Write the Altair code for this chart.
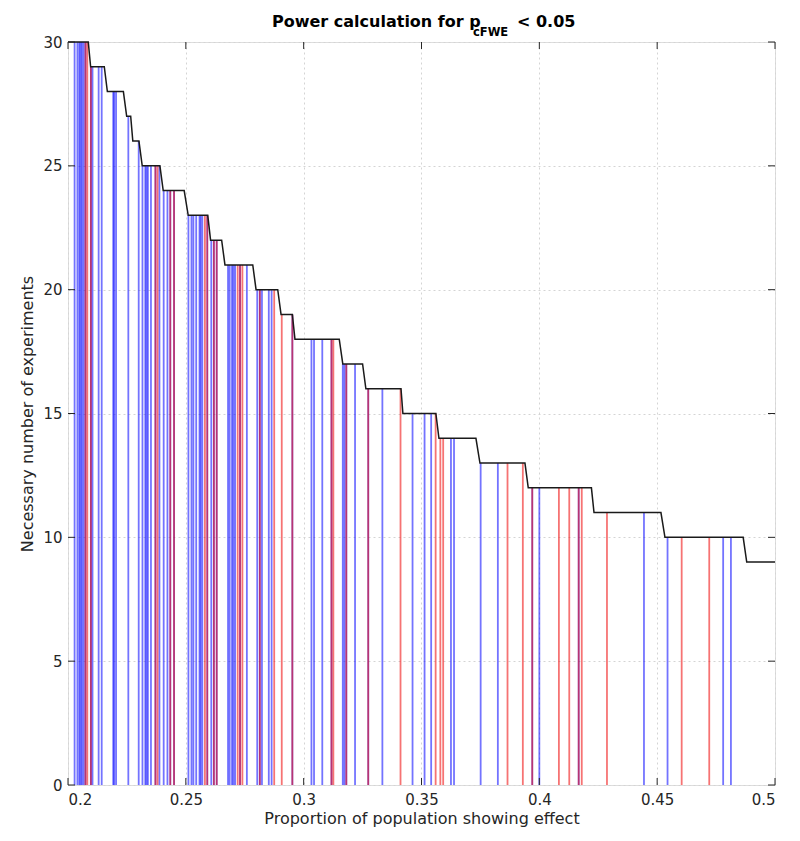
import altair as alt
import pandas as pd

# ---- data ----
# black step curve: each level with its start / end x
step_levels = [30, 29, 28, 27, 26, 25, 24, 23, 22, 21, 20, 19, 18, 17, 16, 15, 14, 13, 12, 11, 10, 9]
step_start = [0.2000, 0.2096, 0.2167, 0.2249, 0.2275, 0.2315, 0.2404, 0.2510, 0.2605, 0.2666, 0.2798,
              0.2904, 0.2963, 0.3166, 0.3264, 0.3421, 0.3574, 0.3748, 0.3953, 0.4232, 0.4533, 0.4880]
step_end = [0.2086, 0.2154, 0.2235, 0.2266, 0.2301, 0.2390, 0.2493, 0.2593, 0.2652, 0.2784, 0.2890,
            0.2952, 0.3151, 0.3250, 0.3413, 0.3561, 0.3731, 0.3939, 0.4221, 0.4516, 0.4865, 0.5000]

# blue vertical lines (x, height)
blue_x = [0.2028, 0.2040, 0.2048, 0.2053, 0.2059, 0.2066, 0.2074, 0.2097, 0.2104, 0.2130, 0.2143,
          0.2192, 0.2196, 0.2204, 0.2256, 0.2300, 0.2316, 0.2328, 0.2333, 0.2339, 0.2352, 0.2371,
          0.2388, 0.2406, 0.2422, 0.2434, 0.2450, 0.2511, 0.2524, 0.2532, 0.2544, 0.2558, 0.2563,
          0.2570, 0.2591, 0.2608, 0.2619, 0.2631, 0.2679, 0.2686, 0.2696, 0.2702, 0.2709, 0.2730,
          0.2759, 0.2803, 0.2814, 0.2823, 0.2852, 0.2864, 0.2952, 0.3033, 0.3044, 0.3079, 0.3118,
          0.3166, 0.3173, 0.3181, 0.3218, 0.3274, 0.3334, 0.3462, 0.3513, 0.3541, 0.3625, 0.3638,
          0.3751, 0.3824, 0.3970, 0.4000, 0.4167, 0.4444, 0.4544, 0.4780, 0.4813]
blue_h = [30, 30, 30, 30, 30, 30, 30, 29, 29, 29, 29,
          28, 28, 28, 27, 26, 25, 25, 25, 25, 25, 25,
          25, 24, 24, 24, 24, 23, 23, 23, 23, 23, 23,
          23, 23, 22, 22, 22, 21, 21, 21, 21, 21, 21,
          21, 20, 20, 20, 20, 20, 19, 18, 18, 18, 18,
          17, 17, 17, 17, 16, 16, 15, 15, 15, 14, 14,
          13, 13, 12, 12, 12, 11, 10, 10, 10]

# red vertical lines (x, height)
red_x = [0.2074, 0.2082, 0.2097, 0.2371, 0.2380, 0.2434, 0.2450, 0.2581, 0.2591, 0.2619, 0.2631,
         0.2720, 0.2730, 0.2740, 0.2814, 0.2875, 0.2907, 0.2952, 0.3118, 0.3126, 0.3181, 0.3274,
         0.3411, 0.3560, 0.3580, 0.3592, 0.3865, 0.3930, 0.3970, 0.4083, 0.4127, 0.4167, 0.4180,
         0.4287, 0.4604, 0.4721]
red_h = [30, 30, 29, 25, 25, 24, 24, 23, 23, 22, 22,
         21, 21, 21, 20, 20, 19, 19, 18, 18, 17, 16,
         16, 15, 14, 14, 13, 13, 12, 12, 12, 12, 12,
         11, 10, 10]

x_ticks = [0.2, 0.25, 0.3, 0.35, 0.4, 0.45, 0.5]
y_ticks = [0, 5, 10, 15, 20, 25, 30]

title_main = "Power calculation for p"
title_sub = "cFWE"
title_tail = "< 0.05"
x_title = "Proportion of population showing effect"
y_title = "Necessary number of experiments"

# ---- tables ----
sx, sy = [], []
for lv, a, b in zip(step_levels, step_start, step_end):
    sx += [a, b]
    sy += [lv, lv]
step_df = pd.DataFrame({"x": sx, "y": sy, "o": list(range(len(sx)))})
blue_df = pd.DataFrame({"x": blue_x, "h": blue_h})
red_df = pd.DataFrame({"x": red_x, "h": red_h})
xt_df = pd.DataFrame({"v": x_ticks})
yt_df = pd.DataFrame({"v": y_ticks})

W, H = 707, 743
FONT = "DejaVu Sans"
AX = "#262626"

xs = alt.Scale(domain=[0.2, 0.5], nice=False, zero=False)
ys = alt.Scale(domain=[0, 30], nice=False, zero=False)

x_axis = alt.Axis(values=x_ticks, format="~g", grid=True, gridDash=[2, 3], gridColor="#d4d4d4",
                  tickSize=0, domain=False, labelPadding=7, labelFontSize=15, titleFontSize=16,
                  titleFontWeight="normal", titlePadding=3, labelColor=AX, titleColor=AX,
                  labelFont=FONT, titleFont=FONT, title=x_title)
y_axis = alt.Axis(values=y_ticks, grid=True, gridDash=[2, 3], gridColor="#d4d4d4",
                  tickSize=0, domain=False, labelPadding=6, labelFontSize=15, titleFontSize=16,
                  titleFontWeight="normal", titlePadding=7, labelColor=AX, titleColor=AX,
                  labelFont=FONT, titleFont=FONT, title=y_title)


def X(field):
    return alt.X(field, type="quantitative", scale=xs, axis=x_axis)


def Y(field):
    return alt.Y(field, type="quantitative", scale=ys, axis=y_axis)


blue = alt.Chart(blue_df).mark_rule(color="#0000ff", opacity=0.55, strokeWidth=1.8).encode(
    x=X("x"), y=Y("h"), y2=alt.datum(0),
)
red = alt.Chart(red_df).mark_rule(color="#ee0000", opacity=0.55, strokeWidth=1.8).encode(
    x=X("x"), y=Y("h"), y2=alt.datum(0),
)
step = alt.Chart(step_df).mark_line(color="#1a1a1a", strokeWidth=1.5).encode(
    x=X("x"), y=Y("y"), order="o:Q",
)

xt_bot = alt.Chart(xt_df).mark_rule(color=AX).encode(
    x=X("v"), y=alt.value(H), y2=alt.value(H - 7))
xt_top = alt.Chart(xt_df).mark_rule(color=AX).encode(
    x=X("v"), y=alt.value(0), y2=alt.value(7))
yt_left = alt.Chart(yt_df).mark_rule(color=AX).encode(
    y=Y("v"), x=alt.value(0), x2=alt.value(7))
yt_right = alt.Chart(yt_df).mark_rule(color=AX).encode(
    y=Y("v"), x=alt.value(W), x2=alt.value(W - 7))

t1 = alt.Chart(pd.DataFrame({"t": [title_main]})).mark_text(
    align="left", baseline="alphabetic", font=FONT, fontSize=16, fontWeight="bold", color="#000"
).encode(text="t:N", x=alt.value(204), y=alt.value(-15))
t2 = alt.Chart(pd.DataFrame({"t": [title_sub]})).mark_text(
    align="left", baseline="alphabetic", font=FONT, fontSize=11.5, fontWeight="bold", color="#000"
).encode(text="t:N", x=alt.value(405), y=alt.value(-6))
t3 = alt.Chart(pd.DataFrame({"t": [title_tail]})).mark_text(
    align="left", baseline="alphabetic", font=FONT, fontSize=16, fontWeight="bold", color="#000"
).encode(text="t:N", x=alt.value(449), y=alt.value(-15))

chart = alt.layer(blue, red, step, xt_bot, xt_top, yt_left, yt_right, t1, t2, t3).properties(
    width=W, height=H,
    autosize=alt.AutoSizeParams(type="none"),
    padding={"left": 60, "top": 34, "right": 10, "bottom": 48},
).configure_view(stroke=AX, strokeWidth=1).configure(font=FONT)

chart.save("out.html", embed_options={"renderer": "svg", "actions": False})
